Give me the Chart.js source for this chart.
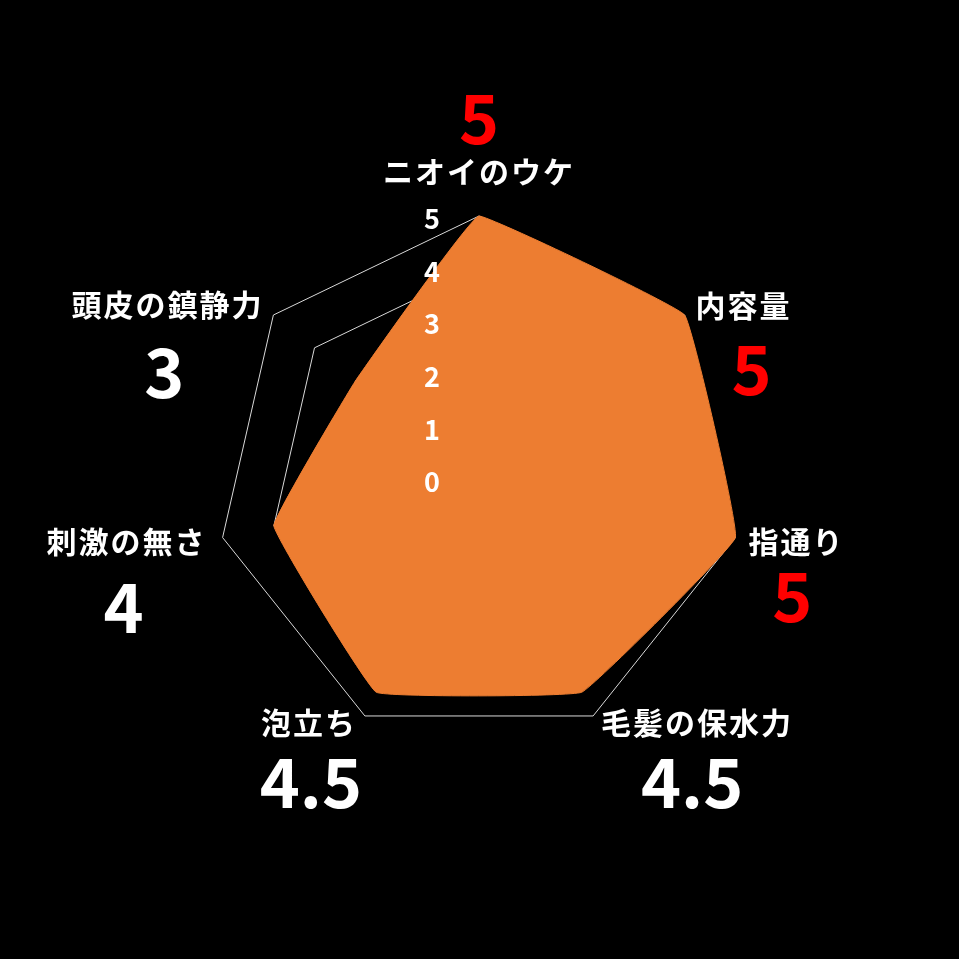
<!DOCTYPE html>
<html>
<head>
<meta charset="utf-8">
<script src="https://cdn.jsdelivr.net/npm/chart.js@4.4.1/dist/chart.umd.min.js"></script>
<style>
  html, body { margin: 0; padding: 0; background: #000; }
  #wrap { width: 959px; height: 959px; }
</style>
</head>
<body>
<div id="wrap"><canvas id="c" width="959" height="959"></canvas></div>
<script>
// ---- data ----
const categories = ['ニオイのウケ', '内容量', '指通り', '毛髪の保水力', '泡立ち', '刺激の無さ', '頭皮の鎮静力'];
const scores = [5, 5, 5, 4.5, 4.5, 4, 3];
const scoreLabels = ['5', '5', '5', '4.5', '4.5', '4', '3'];
const tickValues = [0, 1, 2, 3, 4, 5];

// ---- layout / style (offsets relative to each axis end point) ----
const nameOffsets = [[0, -44], [59, -9], [61, 4], [104, 7], [-56, 7], [-96, 4], [-106, -10]];
const valueOffsets = [[0, -98], [67, 54], [57, 59], [99, 66], [-54, 66], [-99, 70], [-109, 57]];
const FONT = '"Noto Sans CJK JP", "Noto Sans", sans-serif';

const labelPlugin = {
  id: 'customLabels',
  afterDatasetsDraw(chart) {
    const scale = chart.scales.r;
    const ctx = chart.ctx;
    ctx.save();
    // tick labels
    ctx.fillStyle = '#ffffff';
    ctx.font = 'bold 27px ' + FONT;
    ctx.textAlign = 'center';
    ctx.textBaseline = 'middle';
    tickValues.forEach(v => {
      const d = scale.getDistanceFromCenterForValue(v);
      ctx.fillText(String(v), scale.xCenter - 47, scale.yCenter - d + 3);
    });
    // category names + score values
    const outer = scale.getDistanceFromCenterForValue(scale.max);
    categories.forEach((name, i) => {
      const p = scale.getPointPosition(i, outer);
      ctx.fillStyle = '#ffffff';
      ctx.font = 'bold 30px ' + FONT;
      ctx.letterSpacing = '2px';
      ctx.fillText(name, p.x + nameOffsets[i][0], p.y + nameOffsets[i][1]);
      ctx.letterSpacing = '0px';
      ctx.font = 'bold 68px ' + FONT;
      ctx.fillStyle = scores[i] >= 5 ? '#ff0000' : '#ffffff';
      ctx.fillText(scoreLabels[i], p.x + valueOffsets[i][0], p.y + valueOffsets[i][1]);
    });
    ctx.restore();
  }
};

const bgPlugin = {
  id: 'bg',
  beforeDraw(chart) {
    const ctx = chart.ctx;
    ctx.save();
    ctx.fillStyle = '#000';
    ctx.fillRect(0, 0, chart.width, chart.height);
    ctx.restore();
  }
};

new Chart(document.getElementById('c'), {
  type: 'radar',
  data: {
    labels: categories,
    datasets: [{
      data: scores,
      backgroundColor: '#ED7D31',
      borderColor: '#ED7D31',
      borderWidth: 1,
      pointRadius: 0,
      tension: 0.06
    }]
  },
  options: {
    responsive: false,
    animation: false,
    devicePixelRatio: 1,
    layout: { padding: 216 },
    plugins: { legend: { display: false }, tooltip: { enabled: false } },
    scales: {
      r: {
        min: 0,
        max: 5,
        ticks: { stepSize: 1, display: false, showLabelBackdrop: false },
        grid: { color: '#d9d9d9', lineWidth: 1 },
        angleLines: { display: false },
        pointLabels: { display: false }
      }
    }
  },
  plugins: [bgPlugin, labelPlugin]
});
</script>
</body>
</html>
